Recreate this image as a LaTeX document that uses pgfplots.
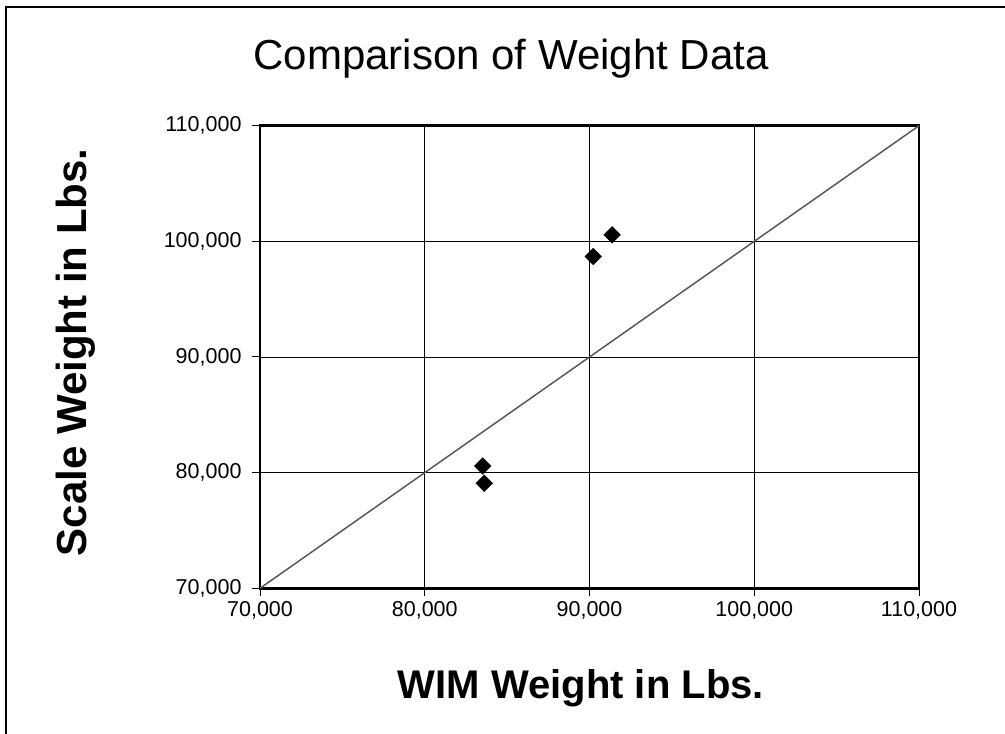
\documentclass[border=0pt]{standalone}
\usepackage{fontspec}
\setmainfont{Liberation Sans}
\usepackage{pgfplots}
\pgfplotsset{compat=1.18}
\begin{document}
\begin{tikzpicture}
\useasboundingbox (0,0) rectangle (1005bp,734bp);
\draw[line width=2bp] (6bp,0) -- (6bp,727bp) -- (1005bp,727bp);
\node[anchor=base, inner sep=0pt, font=\fontsize{42bp}{50bp}\selectfont] at (511bp,664bp) {Comparison of Weight Data};
\begin{axis}[
  at={(260bp,145.7bp)}, anchor=south west,
  scale only axis, width=659bp, height=462.6bp,
  xmin=70000, xmax=110000, ymin=70000, ymax=110000,
  xtick={70000,80000,90000,100000,110000},
  ytick={70000,80000,90000,100000,110000},
  xtick pos=bottom, ytick pos=left,
  scaled ticks=false,
  /pgf/number format/fixed,
  /pgf/number format/1000 sep={,},
  /pgf/number format/assume math mode=true,
  tick label style={font=\fontsize{21.5bp}{25bp}\selectfont},
  yticklabel style={xshift=-7bp},
  xticklabel style={yshift=-2bp},
  grid=major, grid style={black, line width=0.8bp},
  axis line style={line width=2.5bp},
  tick style={black, line width=1bp}, tick align=outside, major tick length=8bp,
  xlabel={WIM Weight in Lbs.}, ylabel={Scale Weight in Lbs.},
  label style={font=\fontsize{40bp}{48bp}\selectfont\bfseries},
  xlabel style={at={(axis description cs:0.487,-0.238)}, anchor=base, inner sep=0pt},
  ylabel style={at={(axis description cs:-0.264,0.51)}, anchor=base, inner sep=0pt, font=\fontsize{42bp}{50bp}\selectfont\bfseries},
]
\addplot[color=black!65, line width=1.5bp] coordinates {(70000,70000) (110000,110000)};
\addplot[only marks, mark=square*, mark size=5.9bp, mark options={rotate=45, fill=black, draw=black}] coordinates {
(83520,80580) (83610,79080) (90230,98690) (91370,100560)};
\end{axis}
\end{tikzpicture}
\end{document}
